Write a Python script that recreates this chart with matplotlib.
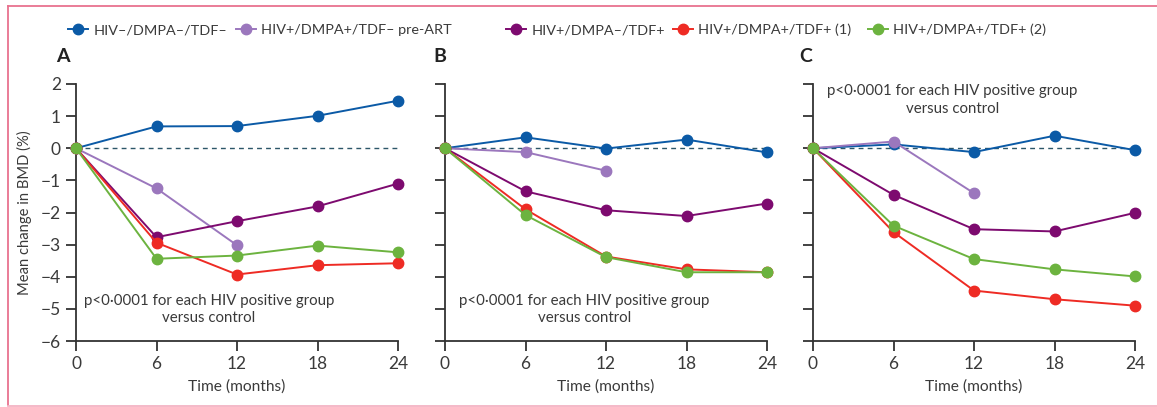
import matplotlib
matplotlib.use("Agg")
import matplotlib.pyplot as plt
from matplotlib.lines import Line2D

plt.rcParams['font.family'] = ['Lato', 'DejaVu Sans']

months = [0, 6, 12, 18, 24]
months_pre = [0, 6, 12]

series_labels = ["HIV\u2013/DMPA\u2013/TDF\u2013", "HIV+/DMPA+/TDF\u2013 pre-ART",
                 "HIV+/DMPA\u2013/TDF+", "HIV+/DMPA+/TDF+ (1)", "HIV+/DMPA+/TDF+ (2)"]
colors = ["#0b5aa6", "#9b77bd", "#7d0a6f", "#ee2b24", "#6cb33f"]

# Panel A
a_ctrl = [0, 0.68, 0.69, 1.01, 1.48]
a_pre = [0, -1.25, -3.02]
a_tdf = [0, -2.77, -2.27, -1.81, -1.10]
a_d1 = [0, -2.94, -3.93, -3.64, -3.58]
a_d2 = [0, -3.44, -3.34, -3.03, -3.24]
# Panel B
b_ctrl = [0, 0.34, -0.01, 0.27, -0.13]
b_pre = [0, -0.12, -0.70]
b_tdf = [0, -1.34, -1.93, -2.11, -1.72]
b_d1 = [0, -1.90, -3.37, -3.77, -3.86]
b_d2 = [0, -2.08, -3.39, -3.86, -3.86]
# Panel C
c_ctrl = [0, 0.12, -0.12, 0.39, -0.06]
c_pre = [0, 0.21, -1.40]
c_tdf = [0, -1.45, -2.52, -2.59, -2.01]
c_d1 = [0, -2.61, -4.43, -4.70, -4.90]
c_d2 = [0, -2.41, -3.45, -3.77, -3.99]

panels = [("A", a_ctrl, a_pre, a_tdf, a_d1, a_d2),
          ("B", b_ctrl, b_pre, b_tdf, b_d1, b_d2),
          ("C", c_ctrl, c_pre, c_tdf, c_d1, c_d2)]

xticks = [0, 6, 12, 18, 24]
yticks = [2, 1, 0, -1, -2, -3, -4, -5, -6]
note = "p<0\u00b70001 for each HIV positive group\nversus control"
note_pos = [(9.9, -5.02), (10.4, -5.02), (10.4, 1.5)]

W, H = 1157, 407
fig = plt.figure(figsize=(W / 100, H / 100), dpi=100)

# pink frame (top, left, bottom)
pink = "#e8728f"
fig.add_artist(Line2D([8 / W, 1.0], [1 - 6 / H, 1 - 6 / H], transform=fig.transFigure,
                      color=pink, linewidth=1.3))
fig.add_artist(Line2D([8 / W, 8 / W], [1 - 6 / H, 1 - 405 / H], transform=fig.transFigure,
                      color=pink, linewidth=1.3))
fig.add_artist(Line2D([8 / W, 1.0], [1 - 405.5 / H, 1 - 405.5 / H], transform=fig.transFigure,
                      color="#f3b3c4", linewidth=1.3))

lefts = [76, 445, 813]
label_x = [63, 440, 806]
axw = 322
top_px, bot_px = 84, 341
text_c = "#3a3a3a"
for i, (lab, ctrl, pre, tdf, d1, d2) in enumerate(panels):
    ax = fig.add_axes([lefts[i] / W, 1 - bot_px / H, axw / W, (bot_px - top_px) / H])
    ax.axhline(0, color="#2c5668", linestyle=(0, (3.5, 3)), linewidth=1.0, zorder=1)
    ys = [ctrl, pre, tdf, d1, d2]
    for k in range(5):
        x = months_pre if k == 1 else months
        ax.plot(x, ys[k], color=colors[k], marker="o", markersize=7.5, linewidth=1.4,
                zorder=3 + k, clip_on=False)
    ax.set_xlim(0, 24)
    ax.set_ylim(-6, 2)
    ax.set_xticks(xticks)
    ax.set_yticks(yticks)
    for s in ["top", "right"]:
        ax.spines[s].set_visible(False)
    for s in ["left", "bottom"]:
        ax.spines[s].set_color("#333333")
        ax.spines[s].set_linewidth(1.3)
    ax.tick_params(direction="out", length=7, width=1.3, color="#333333",
                   labelsize=12.5, labelcolor=text_c, pad=4)
    ax.set_xticklabels([str(t) for t in xticks])
    if i == 0:
        ax.set_yticklabels(["\u2212" + str(-t) if t < 0 else str(t) for t in yticks])
        ax.set_ylabel("Mean change in BMD (%)", fontsize=10.6, color=text_c, labelpad=6)
    else:
        ax.set_yticklabels([])
    ax.set_xlabel("Time (months)", fontsize=11.2, color=text_c, labelpad=5)
    ax.text(note_pos[i][0], note_pos[i][1], note, ha="center", va="center",
            fontsize=10.8, color=text_c, linespacing=1.35)
    fig.text(label_x[i] / W, 1 - 57 / H, lab, fontsize=14, fontweight="bold",
             color="#222222", ha="center", va="center")

handle_x = [68, 236, 506, 673, 868]
for k in range(5):
    h = Line2D([], [], color=colors[k], marker="o", markersize=7.5, linewidth=1.4)
    fig.legend([h], [series_labels[k]], loc="center left",
               bbox_to_anchor=(handle_x[k] / W, 1 - 30 / H), frameon=False,
               fontsize=10.4, handlelength=1.4, handletextpad=0.35, borderpad=0,
               borderaxespad=0, labelcolor=text_c)

fig.savefig("out.png", dpi=100)
